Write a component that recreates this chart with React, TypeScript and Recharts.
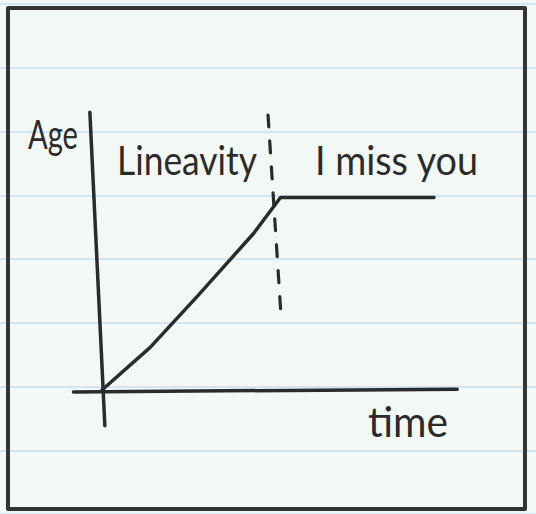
import { Line, LineChart, ReferenceLine, XAxis, YAxis } from 'recharts'

const WIDTH = 536
const HEIGHT = 514
const INK = '#2b2b2b'
const FONT = 'Lato, "Noto Sans", sans-serif'

// readings along the drawn curve, in a 0..10 box
const timeValues = [0, 1.35, 2.7, 4.25, 5, 9.3]
const ageValues = [0, 1.55, 3.45, 5.7, 7, 7]

const axisTitles = ['Age', 'time']
const phaseLabels = ['Lineavity', 'I miss you']

// hand drawn strokes (axes and the divider), in data units
const yAxisStroke = [
  { x: -0.34, y: 10.1 },
  { x: 0.08, y: -1.3 }
]
const xAxisStroke = [
  { x: -0.8, y: -0.07 },
  { x: 9.95, y: 0.03 }
]
const dividerStroke = [
  { x: 4.65, y: 10 },
  { x: 5.02, y: 2.6 }
]

const data = timeValues.map((time, index) => ({ time, age: ageValues[index] }))

const textStyle = {
  fill: INK,
  fontFamily: FONT,
  fontSize: 40
}

export default function App() {
  return (
    <div
      style={{
        position: 'absolute',
        left: 0,
        top: 0,
        width: WIDTH,
        height: HEIGHT,
        backgroundColor: '#f2f8f3',
        backgroundImage:
          'repeating-linear-gradient(to bottom, transparent 0px, transparent 3.5px, #d2e5f6 3.5px, #d2e5f6 5.5px, transparent 5.5px, transparent 63.75px)'
      }}
    >
      <div
        style={{
          position: 'absolute',
          left: 6,
          top: 6,
          width: 520.5,
          height: 505,
          boxSizing: 'border-box',
          border: '4.5px solid #333',
          borderRadius: 2
        }}
      />
      <div style={{ position: 'absolute', left: 0, top: 0 }}>
        <LineChart width={WIDTH} height={HEIGHT} data={data} margin={{ top: 115, right: 77, bottom: 124, left: 102 }}>
          <XAxis type="number" dataKey="time" domain={[0, 10]} hide />
          <YAxis type="number" domain={[0, 10]} hide />
          <ReferenceLine
            segment={yAxisStroke}
            ifOverflow="visible"
            stroke={INK}
            strokeWidth={3.5}
            strokeLinecap="round"
          />
          <ReferenceLine
            segment={xAxisStroke}
            ifOverflow="visible"
            stroke={INK}
            strokeWidth={3.5}
            strokeLinecap="round"
          />
          <ReferenceLine
            segment={dividerStroke}
            ifOverflow="visible"
            stroke={INK}
            strokeWidth={3.2}
            strokeDasharray="12 14"
            strokeLinecap="round"
          />
          <Line
            type="linear"
            dataKey="age"
            stroke={INK}
            strokeWidth={3.5}
            strokeLinecap="round"
            strokeLinejoin="round"
            dot={false}
            activeDot={false}
            isAnimationActive={false}
          />
          <text x={28} y={149} textLength={50} lengthAdjust="spacingAndGlyphs" style={textStyle}>
            {axisTitles[0]}
          </text>
          <text x={368} y={437} textLength={80} lengthAdjust="spacingAndGlyphs" style={{ ...textStyle, fontSize: 42 }}>
            {axisTitles[1]}
          </text>
          <text x={117} y={175} textLength={140} lengthAdjust="spacingAndGlyphs" style={textStyle}>
            {phaseLabels[0]}
          </text>
          <text x={315} y={175} textLength={163} lengthAdjust="spacingAndGlyphs" style={textStyle}>
            {phaseLabels[1]}
          </text>
        </LineChart>
      </div>
    </div>
  )
}
